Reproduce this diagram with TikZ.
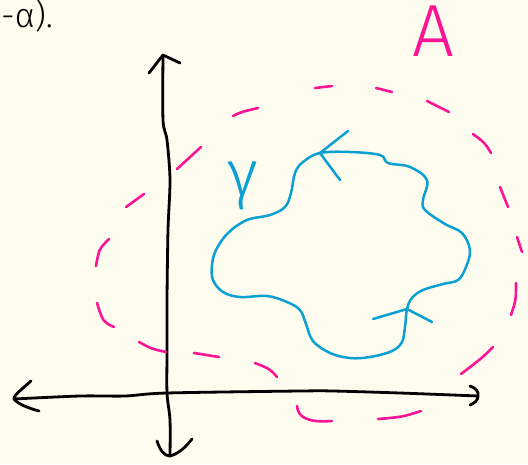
\documentclass[tikz,border=0pt]{standalone}
\usepackage{fontspec}
\newfontfamily\handfont{Fira Sans ExtraLight}
\newfontfamily\handfontb{Fira Sans Light}
\usetikzlibrary{positioning}
\definecolor{paper}{RGB}{254,252,238}
\definecolor{pinkink}{RGB}{250,20,150}
\definecolor{cyanink}{RGB}{10,160,210}

\begin{document}
\begin{tikzpicture}[
      x=1pt, y=-1pt,
      axisline/.style={line width=2.8pt, black, line cap=round, line join=round},
      curveline/.style={line width=2.5pt, cyanink, line cap=round, line join=round},
      dashpiece/.style={line width=2.6pt, pinkink, line cap=round},
      hand/.style={font=\handfont, inner sep=0pt}
    ]
    \fill[paper] (0,0) rectangle (528,464);
    \useasboundingbox (0,0) rectangle (528,464);

    % text at the top left
    \node[hand, anchor=base west, font=\handfontb\fontsize{34}{34}\selectfont] (note) at (1,27) {-α).};

    % axes
    \coordinate (ytop) at (163,55);
    \coordinate (ybot) at (170,456);
    \coordinate (xleft) at (14,399);
    \coordinate (xright) at (478,396);
    \draw[axisline] plot[smooth] coordinates {(ytop) (163,120) (167,140) (170,180) (168,230) (167,300) (167,352) (167,393) (170,420) (ybot)};
    \draw[axisline] plot[smooth] coordinates {(xleft) (80,396) (125,396) (167,393) (300,391) (333,391) (400,393) (xright)};
    \draw[axisline] (149,73) -- (ytop) -- (180,63);
    \draw[axisline] (157,441) .. controls (160,450) and (164,456) .. (ybot) .. controls (178,454) and (186,447) .. (192,439);
    \draw[axisline] (31,381) .. controls (22,389) and (13,396) .. (xleft) .. controls (18,404) and (28,408) .. (39,411);
    \draw[axisline] (470,386) .. controls (476,388) and (479,392) .. (xright) .. controls (478,400) and (475,403) .. (470,405);

    % dashed region A
    \draw[dashpiece] (233,116) .. controls (241,112) .. (258,108);
    \draw[dashpiece] (315,88) -- (332,86);
    \draw[dashpiece] (376,88) -- (392,92);
    \draw[dashpiece] (427,101) -- (449,112);
    \draw[dashpiece] (473,134) .. controls (485,143) .. (491,153);
    \draw[dashpiece] (500,187) -- (508,207);
    \draw[dashpiece] (517,237) -- (522,252);
    \draw[dashpiece] (516,283) .. controls (516,300) .. (511,315);
    \draw[dashpiece] (493,347) .. controls (482,358) .. (461,374);
    \draw[dashpiece] (421,411) .. controls (402,417) .. (378,419);
    \draw[dashpiece] (332,421) .. controls (305,423) and (298,416) .. (297,406);
    \draw[dashpiece] (277,377) .. controls (270,369) .. (255,363);
    \draw[dashpiece] (219,357) -- (194,353);
    \draw[dashpiece] (166,352) .. controls (152,349) .. (139,342);
    \draw[dashpiece] (114,327) .. controls (103,322) .. (97,303);
    \draw[dashpiece] (96,266) .. controls (99,249) .. (109,239);
    \draw[dashpiece] (126,207) -- (144,194);
    \draw[dashpiece] (177,169) -- (201,147);
    \node[hand, text=pinkink, font=\handfontb\fontsize{74}{74}\selectfont] (labelA) at (433,31) {A};

    % closed curve gamma
    \coordinate (tiptop) at (320,153);
    \coordinate (tipbot) at (407,309);
    \draw[curveline] plot[smooth cycle, tension=0.6] coordinates {(tiptop) (350,152) (380,155) (388,163) (410,167) (427,180) (423,200) (425,210) (445,224) (462,233) (470,250) (466,267) (458,280) (443,284) (423,290) (412,298) (tipbot) (405,327) (402,342) (392,351) (370,357) (350,358) (330,353) (313,341) (306,324) (300,310) (287,302) (267,296) (240,297) (223,292) (213,280) (212,265) (216,250) (228,233) (247,220) (270,215) (285,207) (291,193) (295,173) (303,162)};
    \draw[curveline] (348,131) -- (tiptop) -- (340,180);
    \draw[curveline] (373,319) -- (tipbot) -- (432,322);
    \node[hand, text=cyanink, font=\handfontb\fontsize{66}{66}\selectfont] (gammalbl) at (243,186) {γ};
  \end{tikzpicture}
\end{document}
